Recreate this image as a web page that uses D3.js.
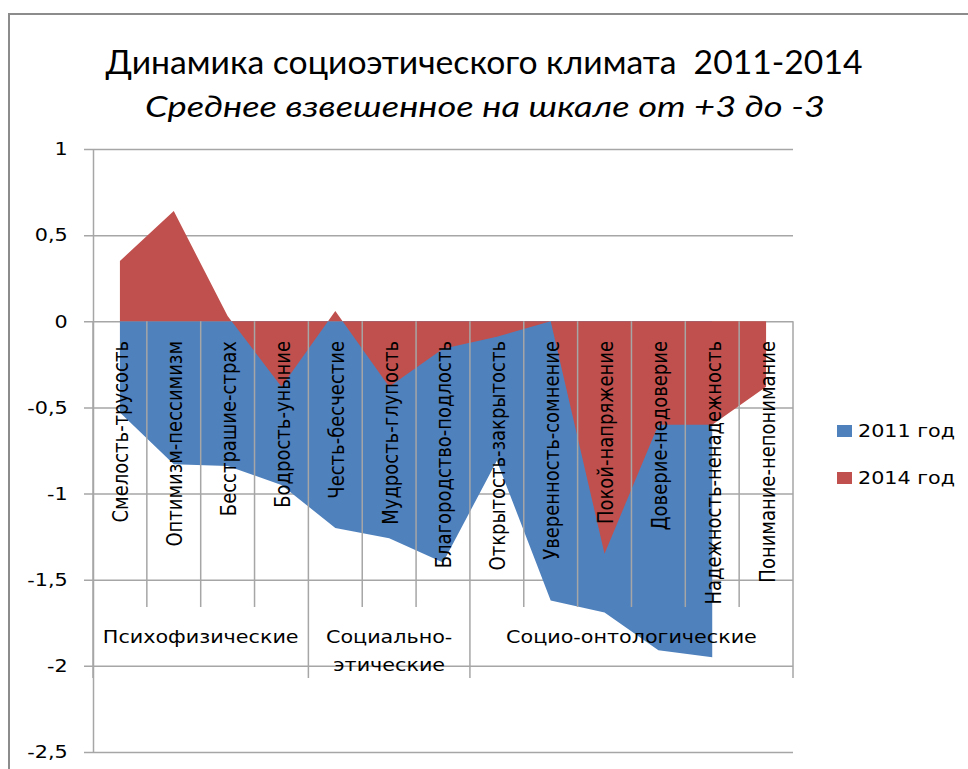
<!DOCTYPE html>
<html>
<head>
<meta charset="utf-8">
<script src="https://cdn.jsdelivr.net/npm/d3@7"></script>
<style>
  body { margin: 0; background: #fff; }
  svg { display: block; }
  .title { white-space: pre; }
</style>
</head>
<body>
<script>
const categories = [
  'Смелость-трусость', 'Оптимизм-пессимизм', 'Бесстрашие-страх', 'Бодрость-уныние',
  'Честь-бесчестие', 'Мудрость-глупость', 'Благородство-подлость',
  'Открытость-закрытость', 'Уверенность-сомнение', 'Покой-напряжение',
  'Доверие-недоверие', 'Надежность-ненадежность', 'Понимание-непонимание'
];
const values2011 = [-0.53, -0.83, -0.84, -0.95, -1.2, -1.26, -1.4, -0.81, -1.62, -1.69, -1.91, -1.95, null];
const values2014 = [0.35, 0.64, 0.03, -0.38, 0.06, -0.38, -0.16, -0.09, 0.0, -1.35, -0.6, -0.6, -0.38];
const groupNames = [['Психофизические'], ['Социально-', 'этические'], ['Социо-онтологические']];
const groupSizes = [4, 3, 6];
const seriesNames = ['2011 год', '2014 год'];
const yTicks = [1, 0.5, 0, -0.5, -1, -1.5, -2, -2.5];

const width = 968, height = 769;
const blue = '#4f81bd', red = '#c0504d';
const gridColor = '#a6a6a6';
const axisFont = 'DejaVu Sans';
const stretch = 1.15;

const svg = d3.select('body').append('svg')
  .attr('width', width)
  .attr('height', height);

svg.append('rect')
  .attr('width', width).attr('height', height)
  .attr('fill', '#fff');

// chart frame, right and bottom edges fall outside the picture
svg.append('rect')
  .attr('x', 9).attr('y', 14)
  .attr('width', 1000).attr('height', 1000)
  .attr('fill', 'none')
  .attr('stroke', '#8c8c8c')
  .attr('stroke-width', 2);

svg.append('text')
  .attr('class', 'title')
  .attr('x', 484).attr('y', 74)
  .attr('text-anchor', 'middle')
  .attr('font-family', 'Lato')
  .attr('font-size', 32)
  .attr('textLength', 757)
  .attr('lengthAdjust', 'spacingAndGlyphs')
  .attr('fill', '#000')
  .text('Динамика социоэтического климата  2011-2014');

svg.append('text')
  .attr('x', 485).attr('y', 117)
  .attr('text-anchor', 'middle')
  .attr('font-family', 'Lato')
  .attr('font-style', 'italic')
  .attr('font-size', 28)
  .attr('textLength', 680)
  .attr('lengthAdjust', 'spacingAndGlyphs')
  .attr('fill', '#000')
  .text('Среднее взвешенное на шкале от +3 до -3');

const x = d3.scaleBand()
  .domain(categories)
  .range([93, 793])
  .padding(0);

const y = d3.scaleLinear()
  .domain([-2.5, 1])
  .range([752, 149]);

const cx = (i) => x(categories[i]) + x.bandwidth() / 2;

const locale = d3.formatLocale({
  decimal: ',', thousands: ' ', grouping: [3], currency: ['', ''], minus: '-'
});
const fmt = locale.format('~g');

// value axis with gridlines
const yAxis = svg.append('g')
  .attr('transform', 'translate(93,0)')
  .call(d3.axisLeft(y)
    .tickValues(yTicks)
    .tickFormat(fmt)
    .tickSizeInner(-(793 - 93))
    .tickSizeOuter(0)
    .tickPadding(22));

yAxis.select('.domain').attr('stroke', gridColor).attr('stroke-width', 1.5);
yAxis.selectAll('.tick line')
  .attr('x1', -9)
  .attr('stroke', gridColor)
  .attr('stroke-width', 1.5);
yAxis.selectAll('.tick text')
  .attr('font-family', axisFont)
  .attr('font-size', 18)
  .attr('fill', '#000')
  .attr('transform', `scale(${stretch},1)`);

// areas: 2011 first, 2014 drawn over it
const area = (vals) => d3.area()
  .defined((d) => d != null)
  .x((d, i) => cx(i))
  .y0(y(0))
  .y1((d) => y(d))(vals);

svg.append('path')
  .attr('d', area(values2011))
  .attr('fill', blue);

svg.append('path')
  .attr('d', area(values2014))
  .attr('fill', red);

// category ticks (inner) and group separators (long)
const groupEdges = [0];
groupSizes.forEach((n) => groupEdges.push(groupEdges[groupEdges.length - 1] + n));
const edges = d3.range(categories.length + 1);

svg.append('g')
  .selectAll('line')
  .data(edges)
  .join('line')
  .attr('x1', (i) => 93 + i * x.bandwidth())
  .attr('x2', (i) => 93 + i * x.bandwidth())
  .attr('y1', y(0))
  .attr('y2', (i) => groupEdges.includes(i) ? 678 : 607)
  .attr('stroke', gridColor)
  .attr('stroke-width', 1.5);

// rotated category labels
svg.append('g')
  .selectAll('text')
  .data(categories)
  .join('text')
  .attr('transform', (d, i) => `translate(${cx(i) + 1},341) rotate(-90) scale(1,${stretch})`)
  .attr('text-anchor', 'end')
  .attr('dy', '0.36em')
  .attr('font-family', axisFont)
  .attr('font-size', 18)
  .attr('fill', '#000')
  .text((d) => d);

// group labels
groupNames.forEach((lines, g) => {
  const gx = 93 + (groupEdges[g] + groupSizes[g] / 2) * x.bandwidth();
  lines.forEach((t, k) => {
    svg.append('text')
      .attr('transform', `translate(${gx},${643 + k * 28}) scale(${stretch},1)`)
      .attr('text-anchor', 'middle')
      .attr('font-family', axisFont)
      .attr('font-size', 18)
      .attr('fill', '#000')
      .text(t);
  });
});

// legend
const legend = svg.append('g')
  .selectAll('g')
  .data(seriesNames)
  .join('g')
  .attr('transform', (d, i) => `translate(837,${425 + i * 47})`);

legend.append('rect')
  .attr('width', 15).attr('height', 12)
  .attr('fill', (d, i) => i === 0 ? blue : red);

legend.append('text')
  .attr('transform', `translate(21,12) scale(${stretch},1)`)
  .attr('font-family', axisFont)
  .attr('font-size', 18)
  .attr('fill', '#000')
  .text((d) => d);
</script>
</body>
</html>
